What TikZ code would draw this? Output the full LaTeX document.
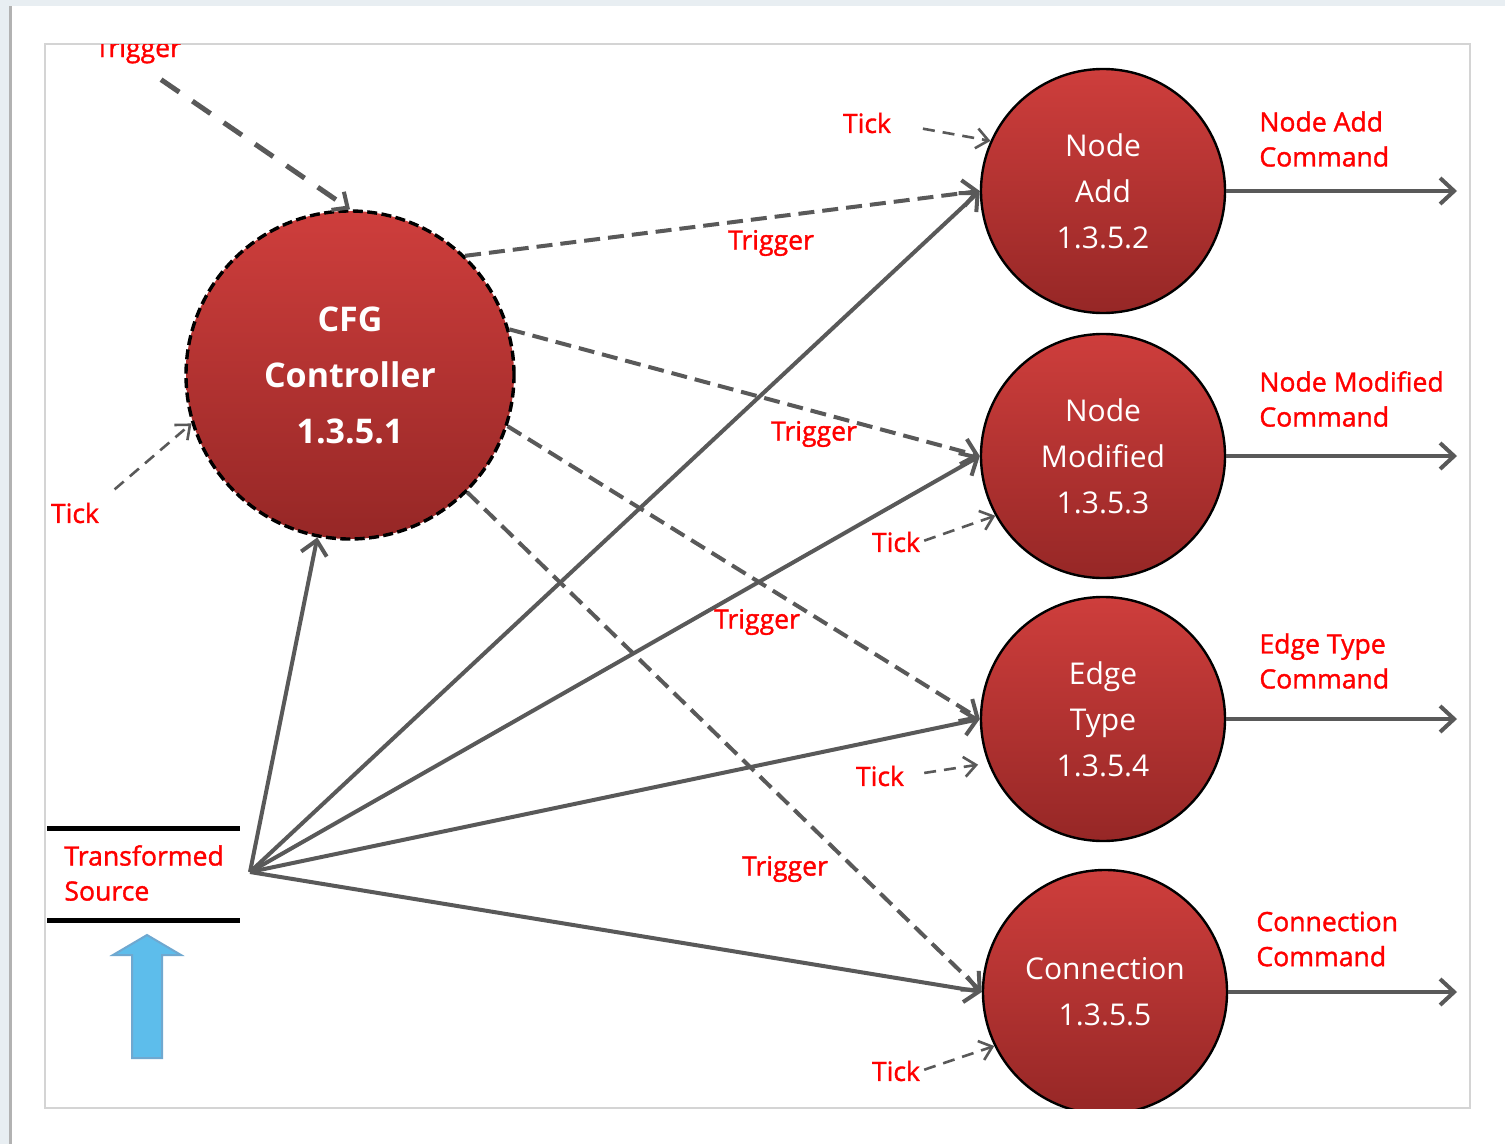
\documentclass[tikz,border=0pt]{standalone}
\usepackage{fontspec}
\setmainfont{Open Sans}
\newfontfamily\tagfont[FakeBold=1.3]{Open Sans}
\usetikzlibrary{arrows.meta}

\definecolor{wire}{HTML}{595959}
\definecolor{lbl}{HTML}{FF0000}
\definecolor{ballTop}{RGB}{206,62,60}
\definecolor{ballBot}{RGB}{150,39,38}
\definecolor{deskbg}{HTML}{E8EEF2}
\definecolor{frameline}{HTML}{D4D4D4}
\definecolor{upfill}{HTML}{5DBDEB}
\definecolor{upline}{HTML}{6FA8D0}

\begin{document}
\begin{tikzpicture}[x=0.5pt,y=-0.5pt,
  ball/.style={circle, draw=black, line width=1.2pt, top color=ballTop,
    bottom color=ballBot, minimum size=122pt, inner sep=0pt, text=white,
    align=center, font=\fontsize{15}{23}\selectfont},
  ctrl/.style={circle, draw=black, line width=1.7pt, dash pattern=on 5pt off 2.2pt,
    top color=ballTop, bottom color=ballBot, minimum size=164pt, inner sep=0pt,
    text=white, align=center, font=\bfseries\fontsize{17}{28}\selectfont},
  tag/.style={text=lbl, inner sep=0pt, align=left, font=\tagfont\fontsize{13.3}{17.5}\selectfont},
  feed/.style={draw=wire, line width=2pt, -{Straight Barb[length=7pt,width=13pt,line width=2pt]}},
  trig/.style={draw=wire, line width=2pt, dash pattern=on 8pt off 4pt,
    -{Straight Barb[length=7pt,width=13pt,line width=2pt]}},
  ticker/.style={draw=wire, line width=1.3pt, dash pattern=on 6pt off 4pt,
    -{Straight Barb[length=6pt,width=10pt,line width=1.3pt]}},
]
% window background and frame
\fill[deskbg] (0,0) rectangle (1505,1144);
\fill[white] (10,6) rectangle (1505,1144);
\draw[gray!60, line width=1.5pt] (10,6) -- (10,1144);
\useasboundingbox (0,0) rectangle (1505,1144);
\draw[frameline, line width=0.6pt] (45,44) rectangle (1470,1108);

\begin{scope}
\clip (45,44) rectangle (1470,1108);

% processes
\node[ctrl] (cfg) at (350,375) {CFG\\Controller\\1.3.5.1};
\node[ball] (na) at (1103,191) {Node\\Add\\1.3.5.2};
\node[ball] (nm) at (1103,456) {Node\\Modified\\1.3.5.3};
\node[ball] (et) at (1103,719) {Edge\\Type\\1.3.5.4};
\node[ball] (cn) at (1105,992) {Connection\\1.3.5.5};

% data store
\coordinate (dsTL) at (47,828);
\coordinate (dsTR) at (240,828);
\coordinate (dsBL) at (47,920);
\coordinate (dsBR) at (240,920);
\draw[black, line width=2.5pt] (dsTL) -- (dsTR);
\draw[black, line width=2.5pt] (dsBL) -- (dsBR);
\node[tag, anchor=west] (ts) at (64,873) {Transformed\\Source};
\coordinate (src) at (250,872);

% input arrow into the store
\draw[fill=upfill, draw=upline, line width=1pt]
  (132,1058) -- (132,955) -- (113,955) -- (147,935) -- (181,955)
  -- (162,955) -- (162,1058) -- cycle;

% outputs
\coordinate (oa) at (1457,191);
\coordinate (om) at (1457,456);
\coordinate (oe) at (1457,719);
\coordinate (oc) at (1457,992);
\draw[feed] (na.east) -- (oa);
\draw[feed] (nm.east) -- (om);
\draw[feed] (et.east) -- (oe);
\draw[feed] (cn.east) -- (oc);
\node[tag, anchor=west] (la) at (1259,139) {Node Add\\Command};
\node[tag, anchor=west] (lm) at (1259,399) {Node Modified\\Command};
\node[tag, anchor=west] (le) at (1259,661) {Edge Type\\Command};
\node[tag, anchor=west] (lc) at (1256,939) {Connection\\Command};

% source fans out
\draw[feed] (src) -- (cfg);
\draw[feed] (src) -- (na.west);
\draw[feed] (src) -- (nm.west);
\draw[feed] (src) -- (et.west);
\draw[feed] (src) -- (cn.west);

% controller triggers
\draw[trig] (cfg.46) -- (na.west);
\draw[trig] (cfg.16) -- (nm.west);
\draw[trig] (cfg.-18) -- (et.west);
\draw[trig] (cfg.-45) -- (cn.west);
\node[tag] (t1) at (771,243) {Trigger};
\node[tag] (t2) at (814,434) {Trigger};
\node[tag] (t3) at (757,622) {Trigger};
\node[tag] (t4) at (785,869) {Trigger};

% external trigger and tick into the controller
\node[tag, anchor=base] (t0) at (138,57) {Trigger};
\draw[draw=wire, line width=2.5pt, dash pattern=on 11pt off 8pt,
  -{Straight Barb[length=6pt,width=11pt,line width=2pt]}, shorten <=14pt]
  (t0.south) -- (cfg.north);
\node[tag] (k0) at (75,513) {Tick};
\draw[ticker, shorten <=10pt] (k0.north east) -- (cfg.197);

% clock ticks
\node[tag] (k1) at (867,123) {Tick};
\node[tag] (k2) at (896,542) {Tick};
\node[tag] (k3) at (880,776) {Tick};
\node[tag] (k4) at (896,1071) {Tick};
\draw[ticker, shorten <=16pt] (k1.east) -- (na.156);
\draw[ticker, shorten <=2pt] (k2.east) -- (nm.209);
\draw[ticker, shorten <=10pt, shorten >=5pt] (k3.east) -- (et.201);
\draw[ticker, shorten <=2pt] (k4.east) -- (cn.206);
\end{scope}
\end{tikzpicture}
\end{document}
